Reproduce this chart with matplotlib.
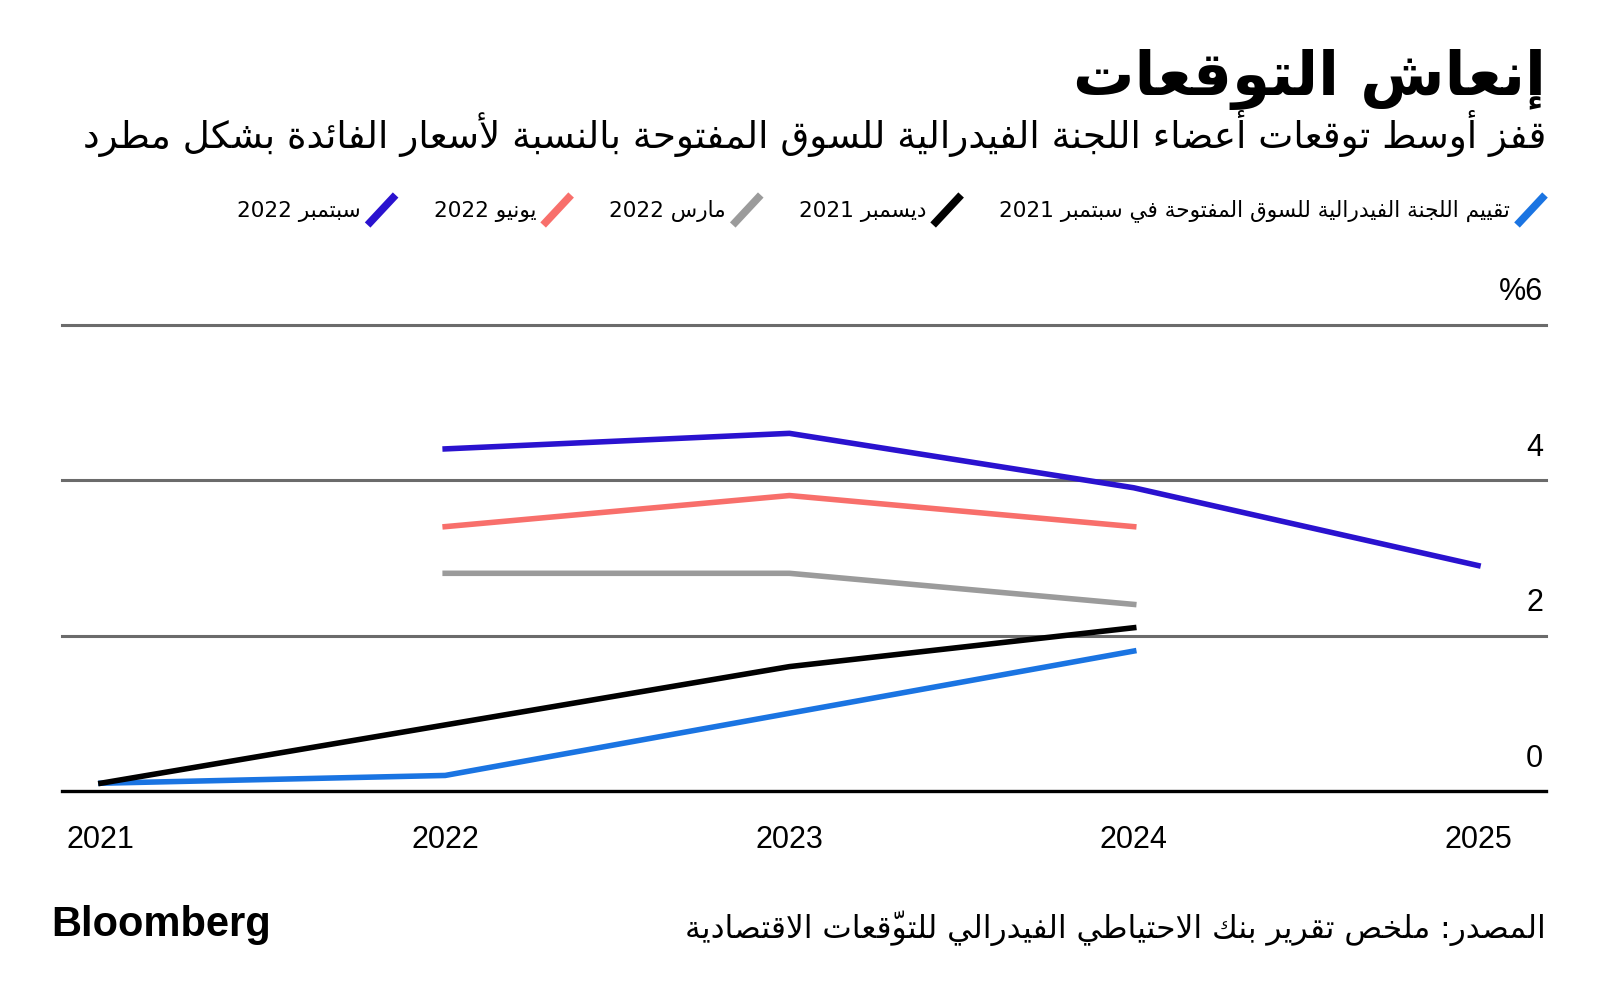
import matplotlib
matplotlib.use("Agg")
import matplotlib.pyplot as plt
from matplotlib.lines import Line2D

# ---- data ----
years = [2021, 2022, 2023, 2024, 2025]
sep2021_x = [2021, 2022, 2023, 2024]
sep2021_y = [0.1, 0.2, 1.0, 1.8]
dec2021_x = [2021, 2022, 2023, 2024]
dec2021_y = [0.1, 0.85, 1.6, 2.1]
mar2022_x = [2022, 2023, 2024]
mar2022_y = [2.8, 2.8, 2.4]
jun2022_x = [2022, 2023, 2024]
jun2022_y = [3.4, 3.8, 3.4]
sep2022_x = [2022, 2023, 2024, 2025]
sep2022_y = [4.4, 4.6, 3.9, 2.9]

grid_vals = [2, 4, 6]
y_labels = ["0", "2", "4", "%6"]

series_names = [
    "تقييم اللجنة الفيدرالية للسوق المفتوحة في سبتمبر 2021",
    "ديسمبر 2021",
    "مارس 2022",
    "يونيو 2022",
    "سبتمبر 2022",
]
series_colors = ["#1a74e2", "#000000", "#9b9b9b", "#f86f6b", "#2a12cf"]

title = "إنعاش التوقعات"
subtitle = "قفز أوسط توقعات أعضاء اللجنة الفيدرالية للسوق المفتوحة بالنسبة لأسعار الفائدة بشكل مطرد"
source = "المصدر: ملخص تقرير بنك الاحتياطي الفيدرالي للتوقّعات الاقتصادية"


# ---- minimal Arabic shaping + visual ordering (matplotlib has no bidi) ----
_counts = [1, 2, 2, 2, 2, 4, 2, 4, 2, 4, 4, 4, 4, 4, 2, 2, 2, 2, 4, 4, 4, 4, 4, 4, 4, 4,
           4, 4, 4, 4, 4, 4, 4, 2, 2, 4]
_codes = list(range(0x0621, 0x063B)) + list(range(0x0641, 0x064B))
FORMS = {}
_p = 0xFE80
for _c, _n in zip(_codes, _counts):
    FORMS[chr(_c)] = tuple(chr(_p + k) for k in range(_n))
    _p += _n
LAMALEF = {"\u0622": ("\uFEF5", "\uFEF6"), "\u0623": ("\uFEF7", "\uFEF8"),
           "\u0625": ("\uFEF9", "\uFEFA"), "\u0627": ("\uFEFB", "\uFEFC")}


def _jt(forms, ch):
    if forms is None:
        return "T" if 0x064B <= ord(ch) <= 0x0652 else "U"
    return {4: "D", 2: "R", 1: "U"}[len(forms)]


def ar(s):
    toks = []
    i = 0
    while i < len(s):
        c = s[i]
        if c == "\u0644" and i + 1 < len(s) and s[i + 1] in LAMALEF:
            toks.append([c, LAMALEF[s[i + 1]]])
            i += 2
            continue
        toks.append([c, FORMS.get(c)])
        i += 1
    jts = [_jt(f, c) for c, f in toks]
    out = []
    for k, (c, f) in enumerate(toks):
        if f is None:
            out.append(c)
            continue
        j = k - 1
        while j >= 0 and jts[j] == "T":
            j -= 1
        cp = j >= 0 and jts[j] == "D"
        j = k + 1
        while j < len(toks) and jts[j] == "T":
            j += 1
        cn = jts[k] == "D" and j < len(toks) and jts[j] in "DR"
        if jts[k] == "D":
            idx = 3 if cp and cn else 1 if cp else 2 if cn else 0
        elif jts[k] == "R":
            idx = 1 if cp else 0
        else:
            idx = 0
        out.append(f[idx])
    # clusters (base + marks), reversed for RTL
    clusters = []
    for ch in out:
        if clusters and 0x064B <= ord(ch) <= 0x0652:
            clusters[-1] += ch
        else:
            clusters.append(ch)
    clusters.reverse()
    # put LTR runs (digits / latin) back in order
    res = []
    k = 0
    while k < len(clusters):
        if clusters[k].isascii() and clusters[k].isalnum():
            j = k
            while j < len(clusters) and clusters[j].isascii() and clusters[j].isalnum():
                j += 1
            res.extend(reversed(clusters[k:j]))
            k = j
        else:
            res.append(clusters[k])
            k += 1
    return "".join(res)


AR = "DejaVu Sans"
LAT = "Liberation Sans"
W, H = 1600, 1004


def fx(x):
    return x / W


def fy(y):
    return 1 - y / H


fig = plt.figure(figsize=(16, 10.04), dpi=100)
fig.patch.set_facecolor("white")

# titles
fig.text(fx(1546), fy(95), ar(title), ha="right", va="baseline",
         fontsize=44, fontweight="bold", family=AR)
fig.text(fx(1546), fy(148), ar(subtitle), ha="right", va="baseline",
         fontsize=26.8, family=AR)

# legend (built right to left)
fig.canvas.draw()
renderer = fig.canvas.get_renderer()
mx = 1531
ly = 211
for name, col in zip(series_names, series_colors):
    fig.add_artist(Line2D([fx(mx - 14), fx(mx + 14)], [fy(ly + 15), fy(ly - 15)],
                          color=col, lw=5.5, solid_capstyle="butt",
                          transform=fig.transFigure))
    t = fig.text(fx(mx - 21), fy(ly), ar(name), ha="right", va="center",
                 fontsize=15.6, family=AR)
    bb = t.get_window_extent(renderer)
    mx = bb.x0 - 52

# plot area
ax = fig.add_axes([fx(62), fy(792), fx(1546) - fx(62), fy(325.5) - fy(792)])
ax.set_xlim(2020.887, 2025.1975)
ax.set_ylim(0, 6)
for s in ax.spines.values():
    s.set_visible(False)
ax.set_yticks([])
ax.set_xticks(years)
ax.set_xticklabels([str(y) for y in years], fontsize=22, family=LAT)
ax.tick_params(axis="x", length=0, pad=24)

for g in grid_vals:
    ax.axhline(g, color="#6b6b6b", lw=2.2, zorder=1, clip_on=False)
ax.axhline(0, color="#000000", lw=2.4, zorder=3, clip_on=False)

for v, lab in zip([0] + grid_vals, y_labels):
    ax.text(0.998, v + 0.43, lab, transform=ax.get_yaxis_transform(),
            ha="right", va="center", fontsize=22, family=LAT)

lw = 4.0
ax.plot(sep2021_x, sep2021_y, color=series_colors[0], lw=lw, zorder=4)
ax.plot(dec2021_x, dec2021_y, color=series_colors[1], lw=lw, zorder=4)
ax.plot(mar2022_x, mar2022_y, color=series_colors[2], lw=lw, zorder=4)
ax.plot(jun2022_x, jun2022_y, color=series_colors[3], lw=lw, zorder=4)
ax.plot(sep2022_x, sep2022_y, color=series_colors[4], lw=lw, zorder=4)

# footer
fig.text(fx(51), fy(925), "Bloomberg", ha="left", va="center",
         fontsize=30, fontweight="bold", family=LAT)
fig.text(fx(1546), fy(928), ar(source), ha="right", va="center",
         fontsize=22.5, family=AR)

fig.savefig("out.png", dpi=100)
